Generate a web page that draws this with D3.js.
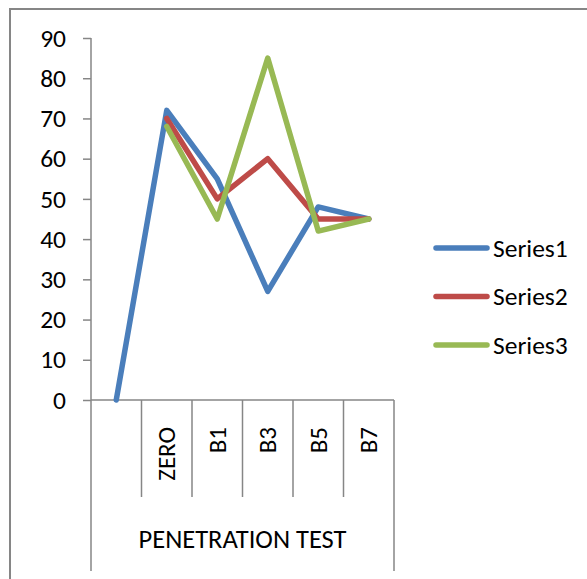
<!DOCTYPE html>
<meta charset="utf-8">
<style>
  body { margin: 0; background: #fff; }
  text { font-family: Carlito, Calibri, Lato, sans-serif; fill: #000; }
</style>
<script src="https://d3js.org/d3.v7.min.js"></script>
<svg id="chart" width="587" height="579"></svg>
<script>

  // data
  var categories = ["", "ZERO", "B1", "B3", "B5", "B7"]
  var groupLabel = "PENETRATION TEST"
  var seriesNames = ["Series1", "Series2", "Series3"]
  var series1 = [0, 72, 55, 27, 48, 45]
  var series2 = [null, 70, 50, 60, 45, 45]
  var series3 = [null, 68, 45, 85, 42, 45]
  var yTicks = [0, 10, 20, 30, 40, 50, 60, 70, 80, 90]
  var colors = ["#4a7ebb", "#be4b48", "#98b954"]

  var allSeries = [series1, series2, series3]

  var svg = d3.select("#chart")

  // outer chart border (runs off the picture at right and bottom)
  svg.append("rect")
    .attr("x", 10).attr("y", 9)
    .attr("width", 700).attr("height", 700)
    .attr("fill", "none")
    .attr("stroke", "#868686")
    .attr("stroke-width", 2)

  var x = d3.scaleBand()
    .domain(categories)
    .range([91, 394])
    .padding(0)

  var y = d3.scaleLinear()
    .domain([0, 90])
    .range([400, 38])

  // y axis
  var yAxis = svg.append("g")
    .attr("transform", "translate(91,0)")
    .call(d3.axisLeft(y).tickValues(yTicks).tickSize(8).tickPadding(17))
  yAxis.select(".domain").remove()
  yAxis.selectAll("line").attr("stroke", "#868686").attr("stroke-width", 1.5)
  yAxis.selectAll("text").style("font-size", "25.5px").attr("font-family", null)

  svg.append("line")
    .attr("x1", 91).attr("x2", 91)
    .attr("y1", y(90)).attr("y2", 571)
    .attr("stroke", "#868686").attr("stroke-width", 1.5)

  // x axis baseline
  svg.append("line")
    .attr("x1", 91).attr("x2", x.range()[1])
    .attr("y1", y(0)).attr("y2", y(0))
    .attr("stroke", "#868686").attr("stroke-width", 1.5)

  // category boundaries
  var bounds = categories.map(function(c) { return x(c) }).concat([x.range()[1]])
  svg.selectAll(".sep")
    .data(bounds.slice(1))
    .enter().append("line")
    .attr("x1", function(d) { return d }).attr("x2", function(d) { return d })
    .attr("y1", y(0))
    .attr("y2", function(d, i) { return i == bounds.length - 2 ? 571 : 497 })
    .attr("stroke", "#868686").attr("stroke-width", 1.5)

  // rotated category labels
  svg.selectAll(".cat")
    .data(categories.filter(function(c) { return c != "" }))
    .enter().append("text")
    .attr("transform", function(d) {
      return "translate(" + (x(d) + x.bandwidth() / 2 + 8.5) + ",427) rotate(-90)"
    })
    .attr("text-anchor", "end")
    .style("font-size", "25px")
    .text(function(d) { return d })

  svg.append("text")
    .attr("x", (x.range()[0] + x.range()[1]) / 2)
    .attr("y", 548)
    .attr("text-anchor", "middle")
    .style("font-size", "26.5px")
    .text(groupLabel)

  // lines
  var line = d3.line()
    .defined(function(d) { return d != null })
    .x(function(d, i) { return x(categories[i]) + x.bandwidth() / 2 })
    .y(function(d) { return y(d) })

  svg.selectAll(".series")
    .data(allSeries)
    .enter().append("path")
    .attr("d", line)
    .attr("fill", "none")
    .attr("stroke", function(d, i) { return colors[i] })
    .attr("stroke-width", 5.5)
    .attr("stroke-linejoin", "round")
    .attr("stroke-linecap", "round")

  // legend
  var legend = svg.selectAll(".leg")
    .data(seriesNames)
    .enter().append("g")
    .attr("transform", function(d, i) { return "translate(436," + (248 + i * 48.5) + ")" })
  legend.append("line")
    .attr("x1", 0).attr("x2", 51)
    .attr("stroke", function(d, i) { return colors[i] })
    .attr("stroke-width", 5.5)
    .attr("stroke-linecap", "round")
  legend.append("text")
    .attr("x", 57).attr("dy", "0.35em")
    .style("font-size", "25.5px")
    .text(function(d) { return d })

</script>
